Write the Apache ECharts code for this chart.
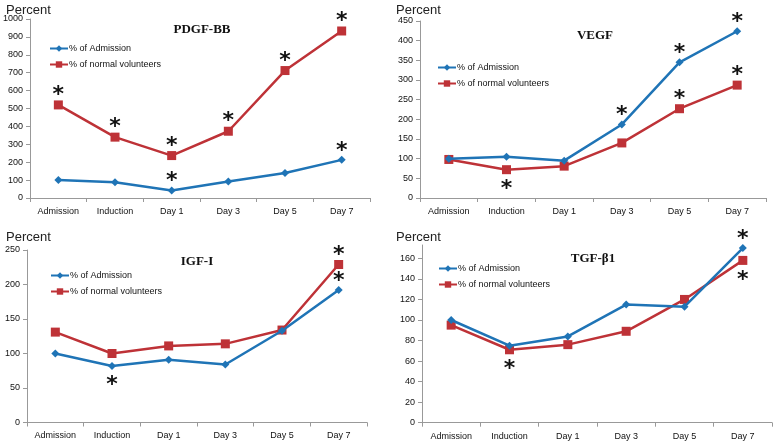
<!DOCTYPE html>
<html><head><meta charset="utf-8">
<script src="https://cdn.jsdelivr.net/npm/echarts@6/dist/echarts.min.js"></script>
<style>html,body{margin:0;padding:0;background:#fff}#c{width:773px;height:444px}</style>
</head><body><div id="c"></div>
<script>
const categories = ['Admission','Induction','Day 1','Day 3','Day 5','Day 7'];
const seriesNames = ['% of Admission','% of normal volunteers'];
const panelTitles = ['PDGF-BB','VEGF','IGF-I','TGF-β1'];

const pdgfAdmission = [100, 88, 42, 92, 140, 213];
const pdgfVolunteers = [520, 340, 237, 373, 712, 933];
const vegfAdmission = [100, 105, 95, 187, 345, 424];
const vegfVolunteers = [98, 72, 81, 140, 227, 287];
const igfAdmission = [100, 82, 91, 84, 133, 192];
const igfVolunteers = [131, 100, 111, 114, 134, 229];
const tgfAdmission = [100, 75, 84, 115, 113, 170];
const tgfVolunteers = [95, 71, 76, 89, 120, 158];

// significance marker placement (null = none)
const pdgfAdmStar = [null, null, 'top', null, null, 'top'];
const pdgfVolStar = ['top','top','top','top','top','top'];
const vegfAdmStar = [null, null, null, 'top', 'top', 'top'];
const vegfVolStar = [null, 'bottom', null, null, 'top', 'top'];
const igfAdmStar = [null, 'bottom', null, null, null, 'top'];
const igfVolStar = [null, null, null, null, null, 'top'];
const tgfAdmStar = [null, null, null, null, null, 'top'];
const tgfVolStar = [null, 'bottom', null, null, null, 'bottom'];

const yMax = [1000, 450, 250, 173];
const yInterval = [100, 50, 50, 20];

const BLUE = '#1f74b6', RED = '#be3237';
const grids = [
  {left: 27, top: 19, width: 343, height: 179},
  {left: 420, top: 21, width: 346, height: 177},
  {left: 27, top: 250, width: 340, height: 172.5},
  {left: 422, top: 245, width: 350, height: 177.7}
];
const titlePos = [[197, 18], [590, 24], [192, 250], [588, 247]];
const legendPos = [[44, 39], [432, 58], [45, 266], [433, 259]];
const percentPos = [[1, -1], [391, -1], [1, 226], [391, 226]];

const data = [
  [pdgfAdmission, pdgfVolunteers, pdgfAdmStar, pdgfVolStar],
  [vegfAdmission, vegfVolunteers, vegfAdmStar, vegfVolStar],
  [igfAdmission, igfVolunteers, igfAdmStar, igfVolStar],
  [tgfAdmission, tgfVolunteers, tgfAdmStar, tgfVolStar]
];

function withStars(vals, stars) {
  return vals.map((v, i) => {
    if (!stars[i]) return v;
    return {value: v, label: {show: true, formatter: '*', position: stars[i],
      distance: stars[i] === 'top' ? 0 : 2,
      fontSize: 22, fontWeight: 'bold', color: '#111', fontFamily: 'DejaVu Sans',
      offset: stars[i] === 'top' ? [0, 6] : [0, 2]}};
  });
}

const FONT = 'Liberation Sans';
const option = {
  animation: false,
  title: [],
  legend: [],
  grid: grids,
  xAxis: [], yAxis: [], series: []
};
for (let p = 0; p < 4; p++) {
  option.title.push({text: panelTitles[p], left: titlePos[p][0], top: titlePos[p][1], textAlign: 'center',
    textStyle: {fontFamily: 'Liberation Serif', fontWeight: 'bold', fontSize: 13, color: '#111'}});
  option.title.push({text: 'Percent', left: percentPos[p][0], top: percentPos[p][1],
    textStyle: {fontFamily: FONT, fontWeight: 'normal', fontSize: 13, color: '#222'}});
  option.legend.push({data: seriesNames, orient: 'vertical', left: legendPos[p][0], top: legendPos[p][1],
    itemWidth: 18, itemHeight: 8, itemGap: 7,
    textStyle: {fontFamily: FONT, fontSize: 9, color: '#111', padding: [0,0,0,-4]}});
  option.xAxis.push({type: 'category', gridIndex: p, data: categories, boundaryGap: true,
    axisLine: {lineStyle: {color: '#999', width: 1}},
    axisTick: {show: true, length: 4, interval: 0, lineStyle: {color: '#999'}},
    axisLabel: {interval: 0, margin: 9, fontFamily: FONT, fontSize: 9, color: '#111'}});
  option.yAxis.push({type: 'value', gridIndex: p, min: 0, max: yMax[p], interval: yInterval[p],
    splitLine: {show: false},
    axisLine: {show: true, lineStyle: {color: '#999', width: 1}},
    axisTick: {show: true, length: 4, lineStyle: {color: '#999'}},
    axisLabel: {margin: 7, fontFamily: FONT, fontSize: 9, color: '#111',
      showMaxLabel: p !== 3, formatter: v => String(v)}});
  const [a, v, as, vs] = data[p];
  option.series.push({name: seriesNames[0], type: 'line', xAxisIndex: p, yAxisIndex: p,
    data: withStars(a, as), symbol: 'diamond', symbolSize: 8, z: 3,
    lineStyle: {color: BLUE, width: 2.5}, itemStyle: {color: BLUE}});
  option.series.push({name: seriesNames[1], type: 'line', xAxisIndex: p, yAxisIndex: p,
    data: withStars(v, vs), symbol: 'rect', symbolSize: 9, z: 2,
    lineStyle: {color: RED, width: 2.5}, itemStyle: {color: RED}});
}
const chart = echarts.init(document.getElementById('c'), null, {renderer: 'canvas'});
chart.setOption(option);
</script></body></html>
